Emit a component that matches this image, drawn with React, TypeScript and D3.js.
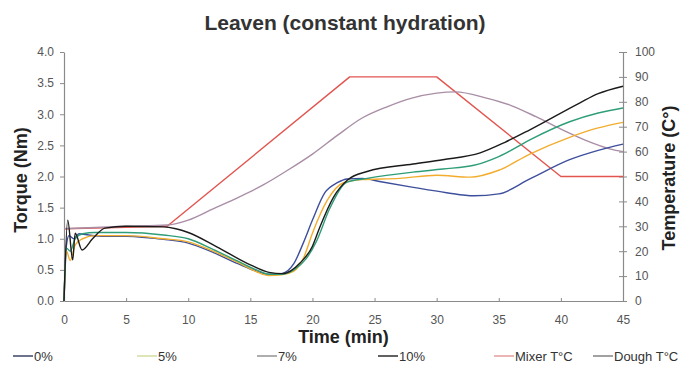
import React, { useRef, useEffect } from "react";
import * as d3 from "d3";

// torque series: [time (min), torque (Nm)]
const torque0: [number, number][] = [
  [0, 0], [0.2, 0.9], [0.4, 1.05], [0.8, 1.0], [1.2, 1.08], [2, 1.06], [3, 1.04], [5, 1.04],
  [7, 1.01], [8, 0.99], [10, 0.93], [12, 0.78], [14, 0.6], [15.5, 0.48], [16.5, 0.43],
  [17.5, 0.44], [18.5, 0.6], [19.3, 0.95], [20, 1.3], [21, 1.74], [22, 1.9], [22.8, 1.96],
  [24, 1.97], [25.4, 1.92], [28, 1.83], [30.8, 1.74], [33, 1.69], [35, 1.72], [37.5, 1.96],
  [40.7, 2.27], [43, 2.42], [45, 2.52],
];
const torque5: [number, number][] = [
  [0, 0], [0.2, 0.8], [0.5, 0.65], [0.9, 0.9], [1.5, 1.0], [2.5, 1.05], [5, 1.05],
  [8, 1.0], [10, 0.95], [12, 0.8], [14, 0.62], [15.5, 0.47], [16.5, 0.41], [17.5, 0.42],
  [18.5, 0.48], [19.3, 0.7], [20, 1.09], [21.2, 1.62], [22.5, 1.9], [24, 1.95], [27, 1.97],
  [30, 2.02], [32.7, 1.99], [35, 2.1], [37.5, 2.36], [40.7, 2.63], [43, 2.78], [45, 2.87],
];
const torque7: [number, number][] = [
  [0, 0], [0.2, 0.85], [0.5, 0.8], [0.9, 1.0], [1.5, 1.08], [2.5, 1.1], [5, 1.1],
  [8, 1.06], [10, 1.0], [12, 0.83], [14, 0.64], [15.5, 0.5], [16.5, 0.43], [17.5, 0.43],
  [18.5, 0.5], [19.5, 0.68], [20.3, 0.95], [21.4, 1.49], [22.8, 1.91], [24.4, 1.97],
  [28.1, 2.07], [30.5, 2.12], [33, 2.18], [35, 2.32], [37.5, 2.59], [40.7, 2.88],
  [43, 3.02], [45, 3.1],
];
const torque10: [number, number][] = [
  [0, 0], [0.3, 1.3], [0.7, 0.66], [0.9, 1.09], [1.45, 0.82], [2.3, 1.0], [3.3, 1.17],
  [5, 1.2], [8, 1.19], [9, 1.16], [10, 1.1], [12.3, 0.87], [15, 0.58], [16.5, 0.46],
  [17.6, 0.44], [19, 0.61], [20, 0.88], [20.6, 1.19], [21.7, 1.67], [22.8, 1.94],
  [24.4, 2.08], [28.1, 2.2], [30.5, 2.27], [33.5, 2.38], [35.5, 2.55], [37.5, 2.75],
  [41.5, 3.18], [43, 3.33], [45, 3.45],
];

// temperature series: [time (min), °C]
const mixerT: [number, number][] = [
  [0, 29], [8.3, 30], [23, 90], [30, 90], [40, 50], [45, 50],
];
const doughT: [number, number][] = [
  [0, 29], [5, 30], [8.3, 30.5], [10, 32.5], [12, 37], [14, 41.5], [16, 46.5], [18, 52.5],
  [20, 59], [22, 66.5], [24, 73.5], [26, 78], [28, 81.5], [30, 83.5], [31.5, 84], [34, 81.5],
  [36, 78.5], [38, 74], [40, 69], [42, 64.5], [44, 61], [45, 60],
];

const xTicks = [0, 5, 10, 15, 20, 25, 30, 35, 40, 45];
const torqueTicks = [0, 0.5, 1.0, 1.5, 2.0, 2.5, 3.0, 3.5, 4.0];
const tempTicks = [0, 10, 20, 30, 40, 50, 60, 70, 80, 90, 100];

const series = [
  { name: "0%", data: torque0, color: "#3d4f9c", legend: "#4a5070", axis: "torque" },
  { name: "5%", data: torque5, color: "#f2ad2e", legend: "#d6dfa6", axis: "torque" },
  { name: "7%", data: torque7, color: "#2f9e78", legend: "#9a9a9a", axis: "torque" },
  { name: "10%", data: torque10, color: "#1b1b1b", legend: "#3a3a3a", axis: "torque" },
  { name: "Mixer T°C", data: mixerT, color: "#e2554f", legend: "#e6a3a3", axis: "temp" },
  { name: "Dough T°C", data: doughT, color: "#a98ea6", legend: "#8a8a8a", axis: "temp" },
];
const legendX = [13, 137, 257, 378, 494, 593];

const App: React.FC = () => {
  const ref = useRef<SVGSVGElement | null>(null);
  const width = 685;
  const height = 365;
  const margin = { top: 52, right: 62, bottom: 64, left: 64 };

  useEffect(() => {
    const svg = d3.select(ref.current);
    svg.selectAll("*").remove();
    const font = "Liberation Sans, Arial, sans-serif";

    const x = d3.scaleLinear().domain([0, 45]).range([margin.left, width - margin.right]);
    const yT = d3.scaleLinear().domain([0, 4]).range([height - margin.bottom, margin.top]);
    const yC = d3.scaleLinear().domain([0, 100]).range([height - margin.bottom, margin.top]);

    const axisColor = "#8a8a8a";
    const styleAxis = (g: d3.Selection<SVGGElement, unknown, null, undefined>) => {
      g.selectAll(".domain").attr("stroke", axisColor).attr("stroke-width", 1.2);
      g.selectAll(".tick line").attr("stroke", axisColor);
      g.selectAll(".tick text")
        .attr("fill", "#555")
        .style("font-family", font)
        .style("font-size", "12px");
    };

    const gx = svg
      .append("g")
      .attr("transform", `translate(0,${height - margin.bottom})`)
      .call(d3.axisBottom(x).tickValues(xTicks).tickSize(-3).tickSizeOuter(0).tickPadding(14));
    styleAxis(gx);

    const gl = svg
      .append("g")
      .attr("transform", `translate(${margin.left},0)`)
      .call(
        d3.axisLeft(yT).tickValues(torqueTicks).tickFormat(d3.format(".1f")).tickSize(4).tickSizeOuter(0).tickPadding(6)
      );
    styleAxis(gl);

    const gr = svg
      .append("g")
      .attr("transform", `translate(${width - margin.right},0)`)
      .call(d3.axisRight(yC).tickValues(tempTicks).tickSize(4).tickSizeOuter(0).tickPadding(8));
    styleAxis(gr);
    gr.selectAll(".tick line").attr("x1", -4);

    const lineT = d3
      .line<[number, number]>()
      .x((d) => x(d[0]))
      .y((d) => yT(d[1]))
      .curve(d3.curveMonotoneX);
    const lineC = d3
      .line<[number, number]>()
      .x((d) => x(d[0]))
      .y((d) => yC(d[1]));
    const lineCs = d3
      .line<[number, number]>()
      .x((d) => x(d[0]))
      .y((d) => yC(d[1]))
      .curve(d3.curveMonotoneX);

    // temperatures drawn first, torque on top
    const order = [4, 5, 0, 1, 2, 3];
    order.forEach((i) => {
      const s = series[i];
      const gen = s.axis === "torque" ? lineT : s.name.startsWith("Mixer") ? lineC : lineCs;
      svg
        .append("path")
        .datum(s.data)
        .attr("fill", "none")
        .attr("stroke", s.color)
        .attr("stroke-width", 1.4)
        .attr("stroke-linejoin", "round")
        .attr("d", gen);
    });

    // titles
    svg
      .append("text")
      .attr("x", 345)
      .attr("y", 30)
      .attr("text-anchor", "middle")
      .style("font-family", font)
      .style("font-size", "21px")
      .style("font-weight", "bold")
      .attr("fill", "#333")
      .text("Leaven (constant hydration)");

    svg
      .append("text")
      .attr("x", (margin.left + width - margin.right) / 2)
      .attr("y", 343)
      .attr("text-anchor", "middle")
      .style("font-family", font)
      .style("font-size", "18px")
      .style("font-weight", "bold")
      .attr("fill", "#222")
      .text("Time (min)");

    svg
      .append("text")
      .attr("transform", `translate(27,180) rotate(-90)`)
      .attr("text-anchor", "middle")
      .style("font-family", font)
      .style("font-size", "18px")
      .style("font-weight", "bold")
      .attr("fill", "#222")
      .text("Torque (Nm)");

    svg
      .append("text")
      .attr("transform", `translate(675,178) rotate(-90)`)
      .attr("text-anchor", "middle")
      .style("font-family", font)
      .style("font-size", "18px")
      .style("font-weight", "bold")
      .attr("fill", "#222")
      .text("Temperature (C°)");

    // legend
    const lg = svg.append("g").attr("transform", "translate(0,356)");
    series.forEach((s, i) => {
      const lx = legendX[i];
      lg.append("line")
        .attr("x1", lx)
        .attr("x2", lx + 20)
        .attr("y1", 0)
        .attr("y2", 0)
        .attr("stroke", s.legend)
        .attr("stroke-width", 1.6);
      lg.append("text")
        .attr("x", lx + 21)
        .attr("y", 4.5)
        .style("font-family", font)
        .style("font-size", "13px")
        .attr("fill", "#333")
        .text(s.name);
    });
  }, []);

  return (
    <svg
      ref={ref}
      width={width}
      height={height}
      style={{ position: "absolute", left: 0, top: 0, background: "#fff" }}
    ></svg>
  );
};

export default App;
